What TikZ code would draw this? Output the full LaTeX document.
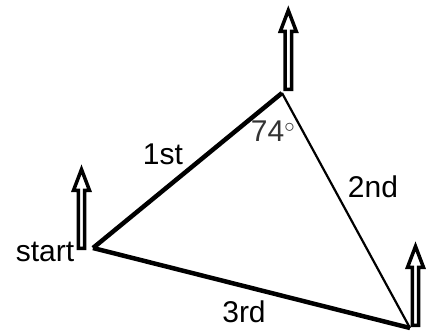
\documentclass[tikz,border=0pt]{standalone}
\usepackage{fontspec}
\setmainfont{Liberation Sans}
\begin{document}
\begin{tikzpicture}[
    x=1pt, y=1pt,
    lbl/.style={font=\fontsize{30}{36}\selectfont, inner sep=0pt, anchor=base},
    leg/.style={line width=4.5pt},
    northarrow/.pic={\draw[line width=3.5pt, fill=white] (-3.2,0) -- (-3.2,58) -- (-8,58) -- (0,79) -- (8,58) -- (3.2,58) -- (3.2,0) -- cycle;}
]
\useasboundingbox (0,0) rectangle (431,331);
\coordinate (start) at (93,83);
\coordinate (turn) at (282,238);
\coordinate (finish) at (410,3);
\draw[leg] (start) -- (turn);
\draw[line width=2.2pt] (turn) -- (finish);
\draw[leg] (start) -- (finish);
\pic (nstart) at (81.5,82.6) {northarrow};
\pic (nturn) at (288.3,241.6) {northarrow};
\pic (nfinish) at (415.5,5.6) {northarrow};
\node[lbl] (startlbl) at (45,69) {start};
\node[lbl] (firstlbl) at (163,166) {1st};
\node[lbl, text=black!80] (anglelbl) at (273,189) {74$^\circ$};
\node[lbl] (secondlbl) at (373,133) {2nd};
\node[lbl] (thirdlbl) at (244,8) {3rd};
\end{tikzpicture}
\end{document}
